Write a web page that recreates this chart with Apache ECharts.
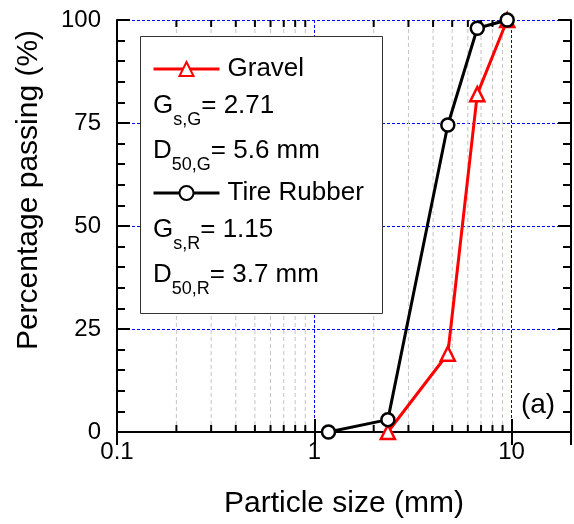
<!DOCTYPE html>
<html>
<head>
<meta charset="utf-8">
<script src="https://cdn.jsdelivr.net/npm/echarts@6/dist/echarts.min.js"></script>
<style>
html,body{margin:0;padding:0;background:#fff;}
#chart{width:574px;height:524px;}
</style>
</head>
<body>
<div id="chart"></div>
<script>
// ---- data ----
const gravelSize = [2.36, 4.75, 6.7, 9.5];
const gravelPassing = [0, 19, 82, 100];
const rubberSize = [1.18, 2.36, 4.75, 6.7, 9.5];
const rubberPassing = [0, 3, 74.5, 98, 100];
const xMajorLabels = ['0.1', '1', '10'];
const minorXValues = [0.2, 0.3, 0.4, 0.5, 0.6, 0.7, 0.8, 0.9, 2, 3, 4, 5, 6, 7, 8, 9];
const yTicks = [0, 25, 50, 75, 100];
const seriesNames = ['Gravel', 'Tire Rubber'];

const FONT = '"Liberation Sans", Arial, sans-serif';
const chart = echarts.init(document.getElementById('chart'), null, {renderer: 'canvas'});

function pairs(xs, ys) { return xs.map((x, i) => [x, ys[i]]); }

function xLabel(v) {
  const l = Math.log10(v);
  const r = Math.round(l);
  if (Math.abs(l - r) < 1e-6) {
    const s = xMajorLabels.find(t => Math.abs(parseFloat(t) - v) < 1e-9);
    return s || '';
  }
  return '';
}

const axisLine = {show: true, lineStyle: {color: '#000', width: 2}};
const blueGrid = {show: true, lineStyle: {color: '#0000ff', width: 1, type: [3, 2]}};

const legendCommon = {
  padding: 0, itemWidth: 66, itemHeight: 17.5, orient: 'vertical',
  textStyle: {fontSize: 26, color: '#000', fontFamily: FONT, padding: [0, 0, 0, 3]},
  lineStyle: {width: 3},
  selectedMode: false
};

const option = {
  backgroundColor: '#fff',
  animation: false,
  grid: {left: 117, right: 3, top: 20, bottom: 89, containLabel: false},
  xAxis: [
    {
      type: 'log', logBase: 10, min: 0.1, max: 20, position: 'bottom',
      axisLine: axisLine,
      axisTick: {show: true, inside: true, length: 13, lineStyle: {color: '#000', width: 2}},
      axisLabel: {show: true, fontSize: 24, color: '#000', fontFamily: FONT, margin: 8,
        formatter: xLabel, showMaxLabel: false},
      splitLine: blueGrid,
      name: 'Particle size (mm)', nameLocation: 'middle', nameGap: 57,
      nameTextStyle: {fontSize: 30, color: '#000', fontFamily: FONT}
    },
    {
      type: 'log', logBase: 10, min: 0.1, max: 20, position: 'top',
      axisLine: axisLine,
      axisTick: {show: true, inside: true, length: 13, lineStyle: {color: '#000', width: 2}},
      axisLabel: {show: false},
      splitLine: {show: false}
    }
  ],
  yAxis: [
    {
      type: 'value', min: yTicks[0], max: yTicks[yTicks.length - 1], interval: 25, position: 'left',
      axisLine: axisLine,
      axisTick: {show: true, inside: true, length: 13, lineStyle: {color: '#000', width: 2}},
      minorTick: {show: true, splitNumber: 5, length: 8, lineStyle: {color: '#000', width: 2}},
      axisLabel: {show: true, fontSize: 24, color: '#000', fontFamily: FONT, margin: 16},
      splitLine: blueGrid,
      name: 'Percentage passing (%)', nameLocation: 'middle', nameGap: 73,
      nameTextStyle: {fontSize: 30, color: '#000', fontFamily: FONT, padding: [0, 0, 0, 72]}
    },
    {
      type: 'value', min: yTicks[0], max: yTicks[yTicks.length - 1], interval: 25, position: 'right',
      axisLine: axisLine,
      axisTick: {show: true, inside: true, length: 13, lineStyle: {color: '#000', width: 2}},
      minorTick: {show: true, splitNumber: 5, length: 8, lineStyle: {color: '#000', width: 2}},
      axisLabel: {show: false},
      splitLine: {show: false}
    }
  ],
  legend: [
    Object.assign({}, legendCommon, {data: [seriesNames[0]], left: 152, top: 56}),
    Object.assign({}, legendCommon, {data: [seriesNames[1]], left: 152, top: 180})
  ],
  graphic: [
    {type: 'rect', left: 140, top: 36, z: 3, silent: true,
      shape: {width: 242, height: 277},
      style: {fill: '#fff', stroke: '#333', lineWidth: 1}},
    {type: 'text', x: 153, y: 106, z: 5, silent: true,
      style: {text: '{m|G}{s|s,G}{m|= 2.71}', verticalAlign: 'middle', fill: '#000',
        rich: {m: {fontSize: 26, lineHeight: 46, fontFamily: FONT, fill: '#000'},
               s: {fontSize: 18, lineHeight: 18, verticalAlign: 'bottom', fontFamily: FONT, fill: '#000'}}}},
    {type: 'text', x: 153, y: 151, z: 5, silent: true,
      style: {text: '{m|D}{s|50,G}{m|= 5.6 mm}', verticalAlign: 'middle', fill: '#000',
        rich: {m: {fontSize: 26, lineHeight: 46, fontFamily: FONT, fill: '#000'},
               s: {fontSize: 18, lineHeight: 18, verticalAlign: 'bottom', fontFamily: FONT, fill: '#000'}}}},
    {type: 'text', x: 153, y: 230, z: 5, silent: true,
      style: {text: '{m|G}{s|s,R}{m|= 1.15}', verticalAlign: 'middle', fill: '#000',
        rich: {m: {fontSize: 26, lineHeight: 46, fontFamily: FONT, fill: '#000'},
               s: {fontSize: 18, lineHeight: 18, verticalAlign: 'bottom', fontFamily: FONT, fill: '#000'}}}},
    {type: 'text', x: 153, y: 275, z: 5, silent: true,
      style: {text: '{m|D}{s|50,R}{m|= 3.7 mm}', verticalAlign: 'middle', fill: '#000',
        rich: {m: {fontSize: 26, lineHeight: 46, fontFamily: FONT, fill: '#000'},
               s: {fontSize: 18, lineHeight: 18, verticalAlign: 'bottom', fontFamily: FONT, fill: '#000'}}}},
    {type: 'text', x: 538, y: 405, z: 5, silent: true,
      style: {text: '(a)', fontSize: 28, fontFamily: FONT, fill: '#000', align: 'center', verticalAlign: 'middle'}}
  ],
  series: [
    {
      name: 'minor grid', type: 'custom', xAxisIndex: 0, yAxisIndex: 0, silent: true, z: 1,
      data: minorXValues.map(v => [v, 0]),
      encode: {x: 0, y: 1},
      renderItem: function (params, api) {
        const v = api.value(0);
        const b = api.coord([v, yTicks[0]]);
        const t = api.coord([v, yTicks[yTicks.length - 1]]);
        return {
          type: 'group',
          children: [
            {type: 'line', shape: {x1: b[0], y1: b[1], x2: t[0], y2: t[1]},
              style: {stroke: '#c4c4c4', lineWidth: 1, lineDash: [4, 3]}},
            {type: 'line', shape: {x1: b[0], y1: b[1], x2: b[0], y2: b[1] - 7},
              style: {stroke: '#000', lineWidth: 2}},
            {type: 'line', shape: {x1: t[0], y1: t[1], x2: t[0], y2: t[1] + 7},
              style: {stroke: '#000', lineWidth: 2}}
          ]
        };
      }
    },
    {
      name: seriesNames[0], type: 'line', xAxisIndex: 0, yAxisIndex: 0, z: 6,
      data: pairs(gravelSize, gravelPassing),
      symbol: 'triangle', symbolSize: 14, showAllSymbol: true, clip: false,
      lineStyle: {color: '#ff0000', width: 3},
      itemStyle: {color: '#ffffff', borderColor: '#ff0000', borderWidth: 2.5}
    },
    {
      name: seriesNames[1], type: 'line', xAxisIndex: 0, yAxisIndex: 0, z: 7,
      data: pairs(rubberSize, rubberPassing),
      symbol: 'circle', symbolSize: 13, showAllSymbol: true, clip: false,
      lineStyle: {color: '#000000', width: 3},
      itemStyle: {color: '#ffffff', borderColor: '#000000', borderWidth: 2.5}
    }
  ]
};
chart.setOption(option);
</script>
</body>
</html>
